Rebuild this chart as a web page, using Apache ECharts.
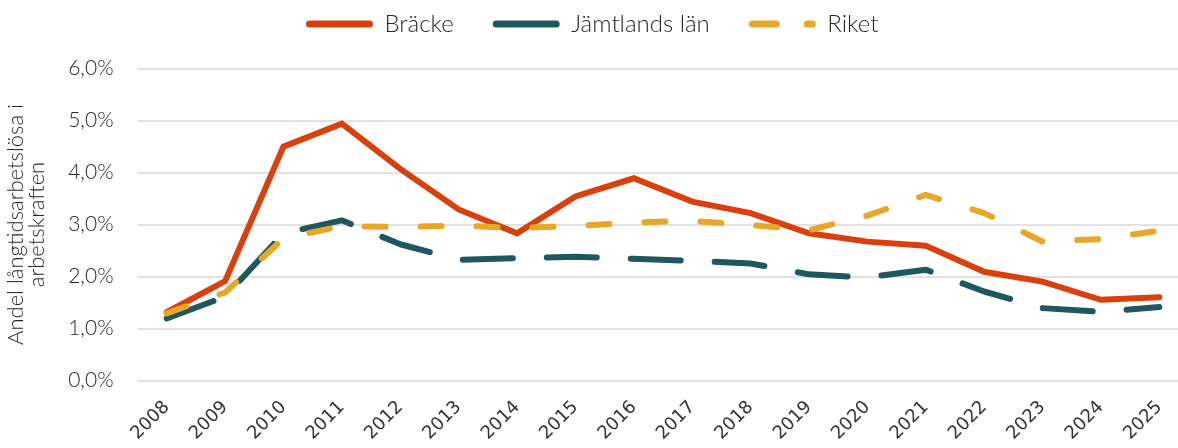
<!DOCTYPE html>
<html>
<head>
<meta charset="utf-8">
<script src="https://cdn.jsdelivr.net/npm/echarts@6/dist/echarts.min.js"></script>
<style>
    html, body { margin: 0; padding: 0; background: #fff; }
    #chart { width: 1178px; height: 448px; }
</style>
</head>
<body>
<div id="chart"></div>
<script>
    var years = ['2008', '2009', '2010', '2011', '2012', '2013', '2014', '2015', '2016',
        '2017', '2018', '2019', '2020', '2021', '2022', '2023', '2024', '2025'];
    // andel i procent
    var bracke = [1.31, 1.91, 4.50, 4.94, 4.07, 3.29, 2.83, 3.54, 3.89,
        3.44, 3.22, 2.83, 2.67, 2.59, 2.09, 1.90, 1.55, 1.60];
    var jamtland = [1.19, 1.61, 2.83, 3.08, 2.62, 2.32, 2.35, 2.38, 2.34,
        2.30, 2.25, 2.04, 1.98, 2.13, 1.71, 1.39, 1.32, 1.41];
    var riket = [1.29, 1.69, 2.73, 2.97, 2.95, 2.98, 2.93, 2.97, 3.04,
        3.07, 2.99, 2.89, 3.17, 3.57, 3.22, 2.67, 2.72, 2.88];
    var yTicks = [0, 1, 2, 3, 4, 5, 6];

    var chart = echarts.init(document.getElementById('chart'));
    var txt = '#262626';
    var font = 'Lato';

    var option = {
        animation: false,
        legend: {
            top: 7,
            left: 301,
            itemWidth: 60,
            itemHeight: 14,
            itemGap: 39,
            itemStyle: { opacity: 0 },
            lineStyle: { width: 7, cap: 'round' },
            textStyle: { fontFamily: font, fontWeight: 300, fontSize: 24, color: txt, padding: [0, 0, 0, 10] },
            data: [
                { name: 'Bräcke' },
                { name: 'Jämtlands län', lineStyle: { type: 'solid' }, textStyle: { padding: [0, 0, 0, 10] } },
                { name: 'Riket', lineStyle: { type: [24, 31] } }
            ]
        },
        grid: { left: 137.5, top: 68.7, width: 1051, height: 311.6, outerBoundsMode: 'none', containLabel: false },
        xAxis: {
            type: 'category',
            data: years,
            boundaryGap: true,
            axisLine: { show: false },
            axisTick: { show: false },
            axisLabel: {
                rotate: 45, margin: 24, interval: 0,
                fontFamily: 'DejaVu Sans', fontSize: 18, color: '#333'
            }
        },
        yAxis: {
            type: 'value',
            min: yTicks[0], max: yTicks[yTicks.length - 1], interval: 1,
            name: 'Andel långtidsarbetslösa i\narbetskraften',
            nameLocation: 'middle',
            nameGap: 90,
            nameTextStyle: { fontFamily: font, fontWeight: 300, fontSize: 22, color: txt, lineHeight: 21 },
            axisLabel: {
                margin: 24,
                fontFamily: font, fontWeight: 300, fontSize: 21, color: txt,
                formatter: function (v) { return v.toFixed(1).replace('.', ',') + '%'; }
            },
            splitLine: { lineStyle: { color: '#d9d9d9', width: 1.5 } }
        },
        series: [
            {
                name: 'Bräcke', type: 'line', data: bracke, symbol: 'none',
                itemStyle: { color: '#d9400e' },
                lineStyle: { color: '#d9400e', width: 6, cap: 'round', join: 'miter' },
                z: 3
            },
            {
                name: 'Jämtlands län', type: 'line', data: jamtland, symbol: 'none',
                itemStyle: { color: '#1f5760' },
                lineStyle: { color: '#1f5760', width: 6, type: [50, 34], cap: 'round' },
                z: 2
            },
            {
                name: 'Riket', type: 'line', data: riket, symbol: 'none',
                itemStyle: { color: '#e7a82a' },
                lineStyle: { color: '#e7a82a', width: 6, type: [21, 35], cap: 'round' },
                z: 4
            }
        ]
    };
    chart.setOption(option);
</script>
</body>
</html>
